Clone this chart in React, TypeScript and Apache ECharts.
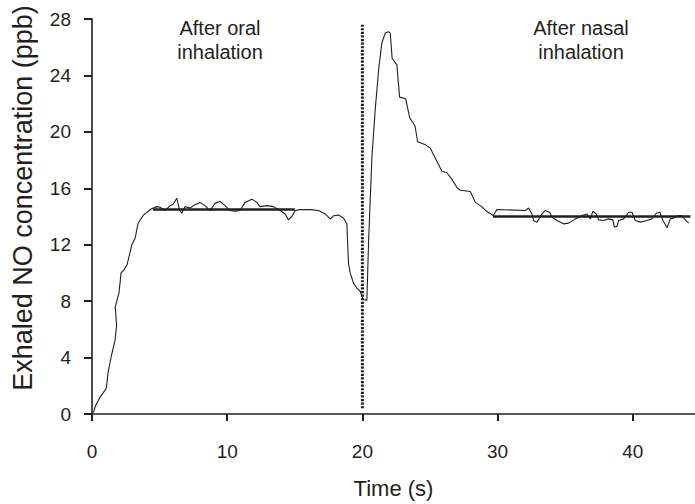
import React, { useEffect, useRef } from "react";
import * as echarts from "echarts";

// Exhaled NO trace (time in s, concentration in ppb)
const timeS = [
  0.1, 0.25, 0.6, 1.05, 1.2, 1.45, 1.7, 1.82, 1.72, 2.0, 2.15, 2.35, 2.6, 2.95, 3.2, 3.4, 3.8, 4.4, 4.8,
  5.03, 5.4, 5.77, 6.02, 6.27, 6.46, 6.64, 6.88, 7.25, 7.62, 7.99, 8.36, 8.73, 9.1, 9.47, 9.84, 10.21,
  10.58, 10.95, 11.32, 11.82, 12.19, 12.43, 12.93, 13.42, 13.92, 14.29, 14.53, 14.78, 15.03, 15.4, 16.14,
  16.75, 17.25, 17.62, 17.86, 18.23, 18.6, 18.85, 18.9, 18.97, 19.1, 19.34, 19.59, 19.84, 19.96, 20.08,
  20.33, 20.46, 20.7, 20.95, 21.2, 21.44, 21.69, 21.93, 22.06, 22.2, 22.55, 22.75, 23.2, 23.5, 23.9,
  24.08, 24.67, 25.02, 25.26, 25.51, 25.88, 26.25, 26.62, 26.99, 27.23, 27.98, 28.35, 28.8, 29.21, 29.68,
  29.95, 32.05, 32.29, 32.54, 32.66, 32.91, 33.28, 33.52, 33.85, 34.02, 34.39, 34.88, 35.25, 35.75, 36.24,
  36.61, 36.86, 37.05, 37.3, 37.47, 37.84, 38.21, 38.53, 38.63, 38.83, 38.95, 39.32, 39.69, 39.94, 40.18,
  40.55, 41.05, 41.42, 41.74, 41.99, 42.23, 42.53, 42.78, 43.03, 43.4, 43.64, 43.81, 44.13,
];
const noPpb = [
  0.1, 0.55, 1.2, 1.8, 3.0, 4.2, 5.2, 6.3, 7.6, 8.6, 10.0, 10.2, 10.6, 12.0, 12.5, 13.5, 14.1, 14.55, 14.7,
  14.65, 14.42, 14.77, 14.88, 15.3, 14.53, 14.23, 14.7, 14.6, 14.84, 15.0, 14.77, 14.42, 14.93, 15.07, 14.77,
  14.42, 14.37, 14.42, 15.0, 15.23, 15.0, 14.7, 14.77, 14.7, 14.42, 14.18, 13.76, 14.0, 14.42, 14.49, 14.49,
  14.42, 14.18, 13.83, 14.05, 14.1, 13.9, 13.48, 12.3, 10.7, 10.0, 9.28, 8.93, 8.7, 8.35, 8.12,
  8.07, 12.3, 18.15, 21.6, 24.4, 26.3, 27.0, 27.1, 27.0, 25.2, 24.75, 22.46, 22.35, 21.0, 20.4,
  19.3, 19.08, 18.85, 18.38, 17.92, 17.21, 17.1, 16.63, 16.05, 15.86, 15.77, 15.0, 14.72, 14.35, 14.07,
  14.5, 14.42, 14.6, 14.18, 13.72, 13.6, 14.18, 14.42, 14.3, 13.95, 13.72, 13.48, 13.53, 13.83, 14.07,
  14.18, 13.83, 14.37, 14.18, 13.76, 13.72, 13.83, 13.76, 13.25, 13.3, 13.72, 13.83, 14.3, 14.3, 13.72,
  13.6, 13.72, 13.83, 14.23, 14.3, 13.72, 13.2, 13.83, 13.9, 14.07, 14.07, 13.83, 13.53,
];

// Plateau mean lines
const oralMeanX = [4.5, 15.0];
const oralMeanY = [14.5, 14.5];
const nasalMeanX = [29.65, 44.26];
const nasalMeanY = [14.0, 14.0];

// Divider between oral and nasal phases
const dividerX = [20, 20];
const dividerY = [0.4, 27.6];

const yTicks = [0, 4, 8, 12, 16, 20, 24, 28];
const xTicks = [0, 10, 20, 30, 40];

const ink = "#231f20";
const font = "Liberation Sans, Arial, sans-serif";

const pairs = (xs: number[], ys: number[]) => xs.map((x, i) => [x, ys[i]]);

export default function App() {
  const ref = useRef<HTMLDivElement>(null);
  useEffect(() => {
    if (!ref.current) return;
    const chart = echarts.init(ref.current, undefined, { renderer: "svg" });
    chart.setOption({
      animation: false,
      backgroundColor: "#ffffff",
      grid: { left: 92, top: 19, right: 0, bottom: 84.7, containLabel: false },
      xAxis: {
        type: "value",
        min: 0,
        max: 44.6,
        interval: 10,
        name: "Time (s)",
        nameLocation: "middle",
        nameGap: 63,
        nameTextStyle: { fontFamily: font, fontSize: 22, color: ink },
        axisLine: { show: true, onZero: false, lineStyle: { color: ink, width: 1.6 } },
        axisTick: { show: true, inside: false, length: 7, lineStyle: { color: ink, width: 2 } },
        axisLabel: {
          fontFamily: font,
          fontSize: 19,
          color: ink,
          margin: 28,
          showMaxLabel: false,
          formatter: (v: number) => (xTicks.includes(v) ? String(v) : ""),
        },
        splitLine: { show: false },
      },
      yAxis: {
        type: "value",
        min: 0,
        max: 28,
        interval: 4,
        axisLine: { show: true, onZero: false, lineStyle: { color: ink, width: 1.6 } },
        axisTick: { show: true, inside: false, length: 8, lineStyle: { color: ink, width: 2 } },
        axisLabel: {
          fontFamily: font,
          fontSize: 19,
          color: ink,
          margin: 21,
          formatter: (v: number) => (yTicks.includes(v) ? String(v) : ""),
        },
        splitLine: { show: false },
      },
      graphic: [
        {
          type: "text",
          x: 23,
          y: 198,
          rotation: Math.PI / 2,
          style: {
            text: "Exhaled NO concentration (ppb)",
            fontFamily: font,
            fontSize: 27,
            fill: ink,
            align: "center",
            verticalAlign: "middle",
          },
        },
        {
          type: "text",
          x: 220,
          y: 40,
          style: {
            text: "After oral\ninhalation",
            fontFamily: font,
            fontSize: 20,
            lineHeight: 24,
            fill: ink,
            align: "center",
            verticalAlign: "middle",
          },
        },
        {
          type: "text",
          x: 581,
          y: 40,
          style: {
            text: "After nasal\ninhalation",
            fontFamily: font,
            fontSize: 20,
            lineHeight: 24,
            fill: ink,
            align: "center",
            verticalAlign: "middle",
          },
        },
      ],
      series: [
        {
          type: "line",
          data: pairs(dividerX, dividerY),
          showSymbol: false,
          silent: true,
          lineStyle: { color: ink, width: 3, type: [2.2, 1.4] },
          z: 1,
        },
        {
          type: "line",
          data: pairs(timeS, noPpb),
          showSymbol: false,
          silent: true,
          lineStyle: { color: ink, width: 1.1 },
          z: 2,
        },
        {
          type: "line",
          data: pairs(oralMeanX, oralMeanY),
          showSymbol: false,
          silent: true,
          lineStyle: { color: ink, width: 2.6 },
          z: 3,
        },
        {
          type: "line",
          data: pairs(nasalMeanX, nasalMeanY),
          showSymbol: false,
          silent: true,
          lineStyle: { color: ink, width: 2.6 },
          z: 3,
        },
      ],
    });
    return () => chart.dispose();
  }, []);
  return <div ref={ref} style={{ width: 695, height: 504, position: "absolute", left: 0, top: 0 }} />;
}
